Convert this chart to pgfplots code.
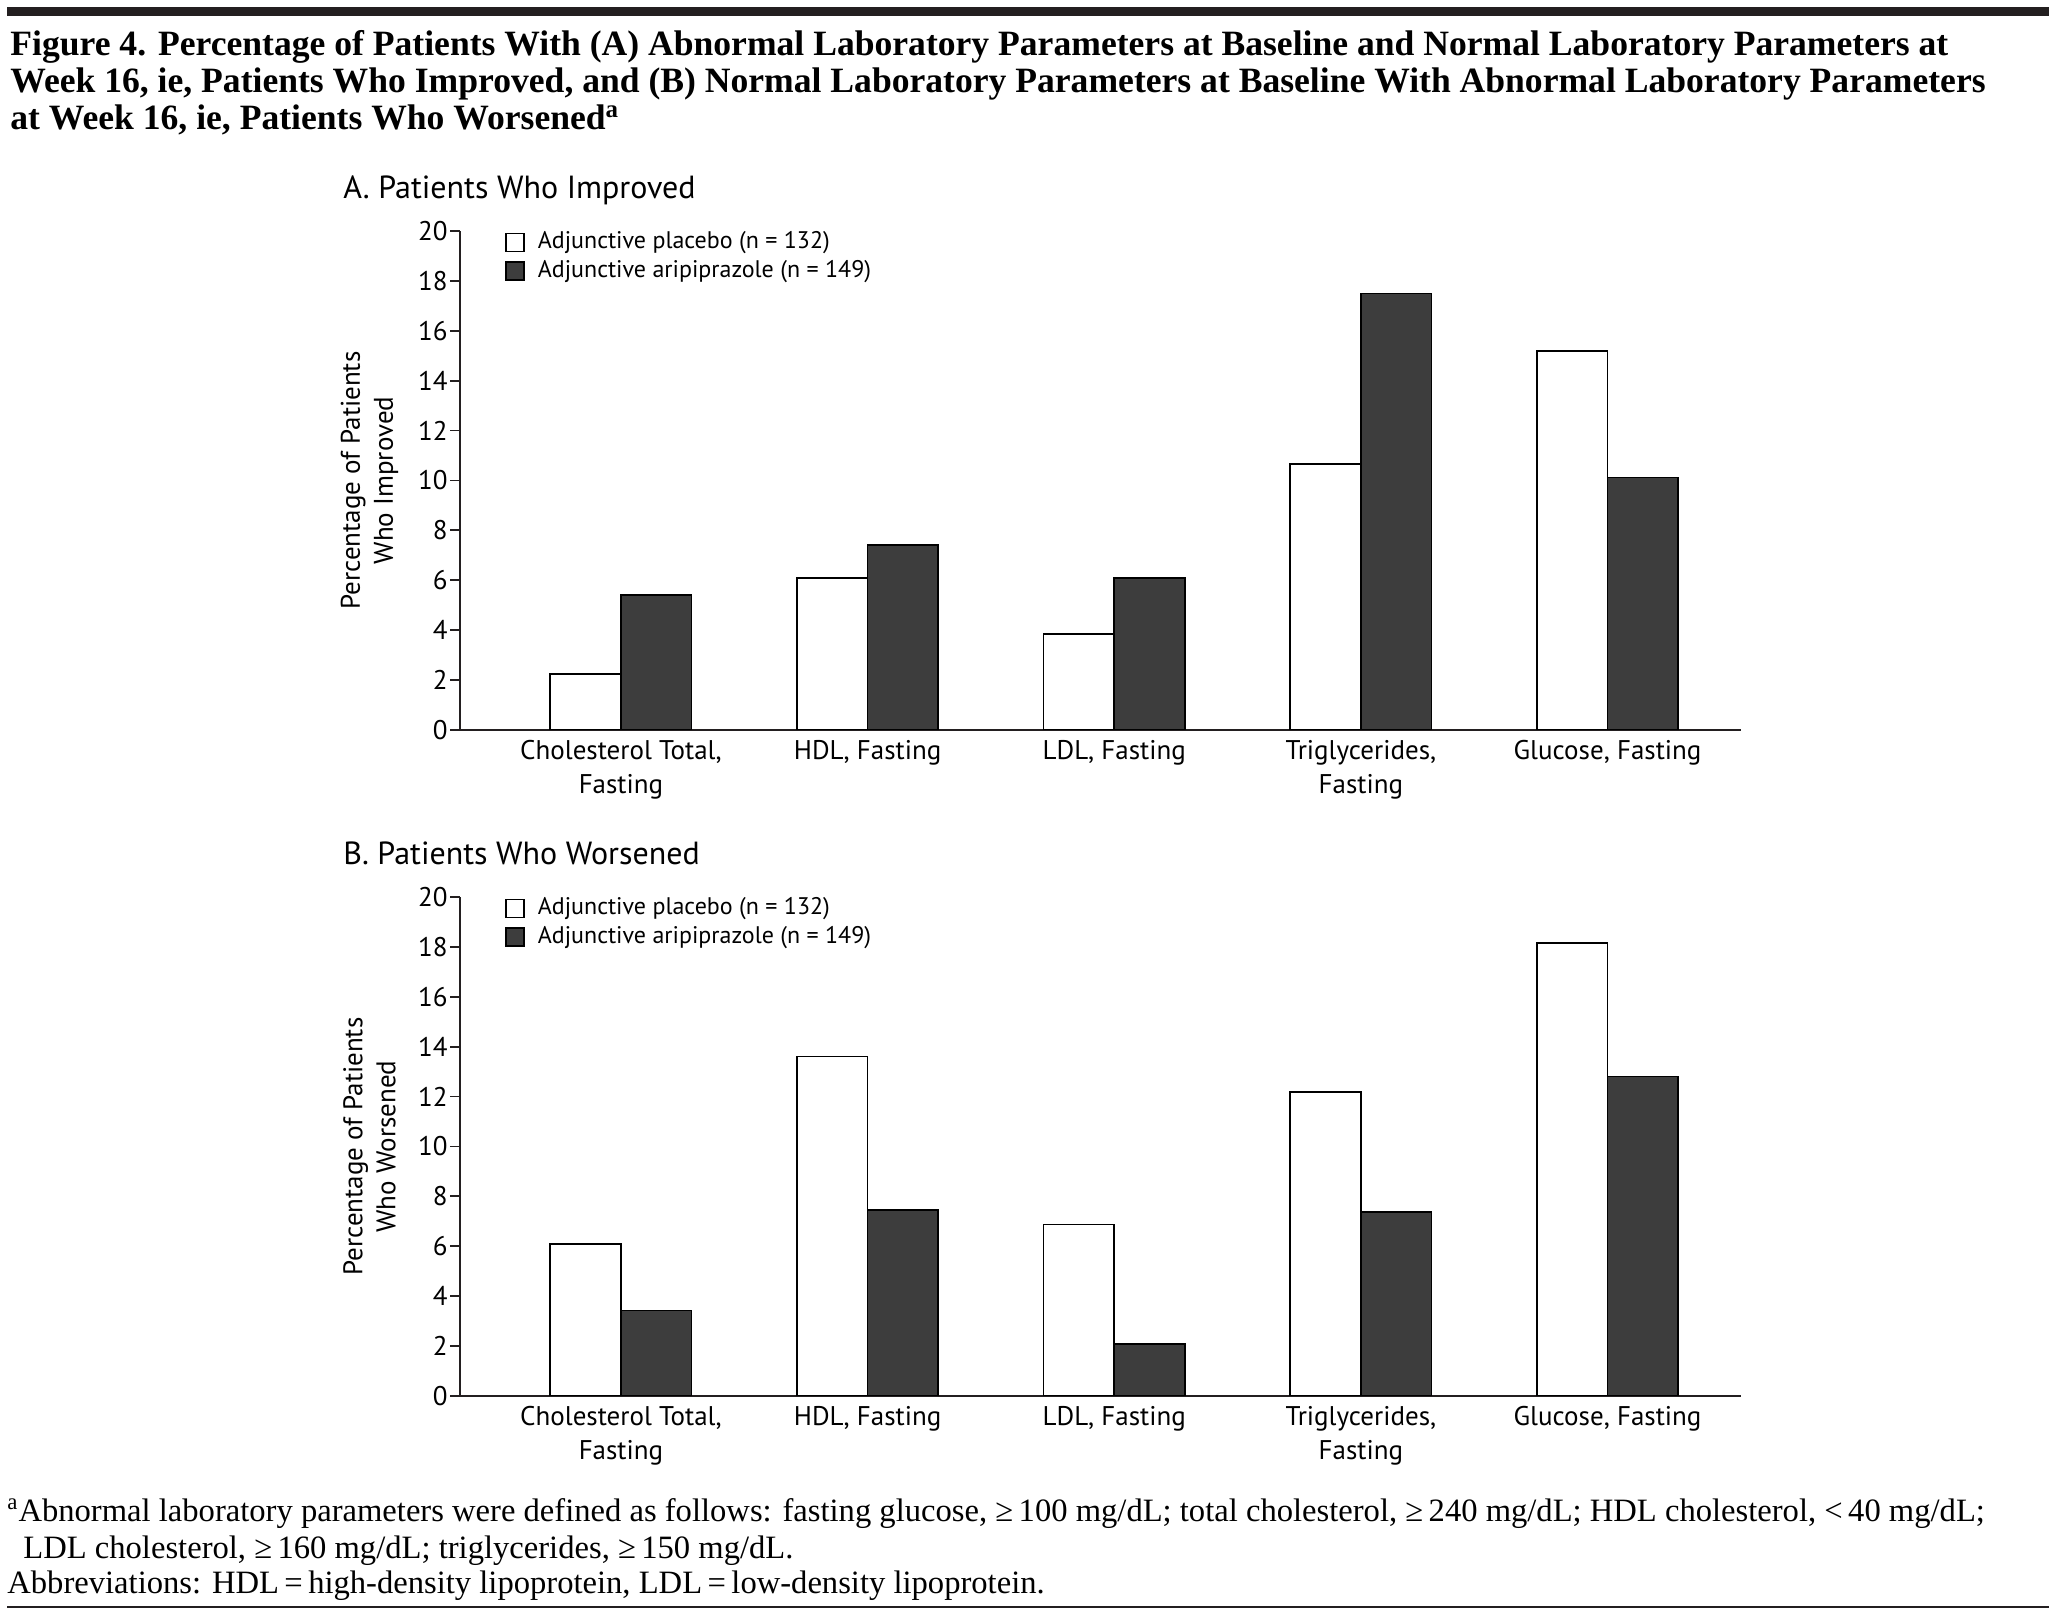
\documentclass[border=0pt]{standalone}
\usepackage{fontspec}
\setmainfont{Liberation Serif}
\newfontfamily\chartfont{PT Sans}
\usepackage{pgfplots}
\pgfplotsset{compat=1.18}

\definecolor{barfill}{RGB}{61,61,61}
\definecolor{rulecol}{RGB}{35,31,32}

\pgfplotsset{
  labchart/.style={
    scale only axis, width=640.5pt, height=249.5pt,
    xmin=-0.6525, xmax=4.541, ymin=0, ymax=20,
    axis x line=bottom, axis y line=left,
    axis line style={-, line width=0.9pt, rulecol},
    xtick={0,1,2,3,4},
    xticklabels={{Cholesterol Total,\\Fasting},{HDL, Fasting},{LDL, Fasting},{Triglycerides,\\Fasting},{Glucose, Fasting}},
    x tick style={draw=none},
    ytick={0,2,...,20},
    y tick style={line width=0.9pt, rulecol},
    tick align=outside, major tick length=5pt,
    /pgf/number format/assume math mode=true,
    tick label style={font=\chartfont\fontsize{13.5}{17}\selectfont},
    xticklabel style={align=center, anchor=north, inner sep=2pt, yshift=2pt},
    yticklabel style={inner sep=1pt},
    label style={font=\chartfont\fontsize{13.5}{16.5}\selectfont},
    ylabel style={align=center, at={(axis description cs:-0.0706,0.5)}, anchor=center},
    legend style={at={(rel axis cs:0.035,1.0)}, anchor=north west, draw=none, fill=none,
      inner sep=0pt, row sep=3.4pt, font=\chartfont\fontsize{12}{13}\selectfont,
      nodes={inner sep=0pt, text height=8.5pt, text depth=2.5pt}},
    legend cell align=left,
  },
  plac/.style={ybar, bar width=0.2865, bar shift=-0.14325, fill=white, draw=black, line width=0.8pt,
    legend image code/.code={\draw[fill=white, draw=black, line width=0.8pt] (0pt,-4.5pt) rectangle (9pt,4.5pt); \path (15.5pt,0pt);}},
  arip/.style={ybar, bar width=0.2865, bar shift=0.14325, fill=barfill, draw=black, line width=0.8pt,
    legend image code/.code={\draw[fill=barfill, draw=black, line width=0.8pt] (0pt,-4.5pt) rectangle (9pt,4.5pt); \path (15.5pt,0pt);}},
}

\begin{document}
\begin{tikzpicture}
\path[use as bounding box] (0pt,0pt) rectangle (1028pt,808.5pt);

% rules
\fill[rulecol] (3.5pt,800.5pt) rectangle (1024.5pt,805pt);
\draw[rulecol, line width=1.4pt] (3.5pt,5pt) -- (1024.5pt,5pt);

% figure title, one node per line
\begin{scope}[every node/.style={anchor=base west, inner sep=0pt, font=\bfseries\fontsize{17.8}{18.7}\selectfont}]
\node at (5pt,780.8pt) {Figure 4. Percentage of Patients With (A) Abnormal Laboratory Parameters at Baseline and Normal Laboratory Parameters at};
\node at (5pt,762.1pt) {Week 16, ie, Patients Who Improved, and (B) Normal Laboratory Parameters at Baseline With Abnormal Laboratory Parameters};
\node at (5pt,743.5pt) {at Week 16, ie, Patients Who Worsened\textsuperscript{a}};
\end{scope}

% panel A
\node[anchor=base west, inner sep=0pt, font=\chartfont\fontsize{16}{16}\selectfont] at (171.5pt,709pt) {A. Patients Who Improved};
\begin{axis}[labchart, at={(230pt,443.5pt)}, anchor=south west,
  ylabel={Percentage of Patients\\Who Improved}]
\addplot[plac] coordinates {(0,2.25) (1,6.08) (2,3.85) (3,10.65) (4,15.2)};
\addlegendentry{Adjunctive placebo (n = 132)}
\addplot[arip] coordinates {(0,5.4) (1,7.42) (2,6.08) (3,17.5) (4,10.12)};
\addlegendentry{Adjunctive aripiprazole (n = 149)}
\end{axis}

% panel B
\node[anchor=base west, inner sep=0pt, font=\chartfont\fontsize{16}{16}\selectfont] at (171.5pt,376pt) {B. Patients Who Worsened};
\begin{axis}[labchart, at={(230pt,110.5pt)}, anchor=south west,
  ylabel={Percentage of Patients\\Who Worsened}]
\addplot[plac] coordinates {(0,6.1) (1,13.6) (2,6.88) (3,12.18) (4,18.15)};
\addlegendentry{Adjunctive placebo (n = 132)}
\addplot[arip] coordinates {(0,3.42) (1,7.45) (2,2.08) (3,7.38) (4,12.8)};
\addlegendentry{Adjunctive aripiprazole (n = 149)}
\end{axis}

% footnotes, one node per line
\begin{scope}[every node/.style={anchor=base west, inner sep=0pt, font=\fontsize{16.3}{18}\selectfont}]
\node at (3.5pt,47.7pt) {\textsuperscript{a}Abnormal laboratory parameters were defined as follows: fasting glucose, ≥\,100 mg/dL; total cholesterol, ≥\,240 mg/dL; HDL cholesterol, <\,40 mg/dL;};
\node at (11.5pt,29.3pt) {LDL cholesterol, ≥\,160 mg/dL; triglycerides, ≥\,150 mg/dL.};
\node at (3.5pt,11.6pt) {Abbreviations: HDL\,=\,high-density lipoprotein, LDL\,=\,low-density lipoprotein.};
\end{scope}
\end{tikzpicture}
\end{document}
